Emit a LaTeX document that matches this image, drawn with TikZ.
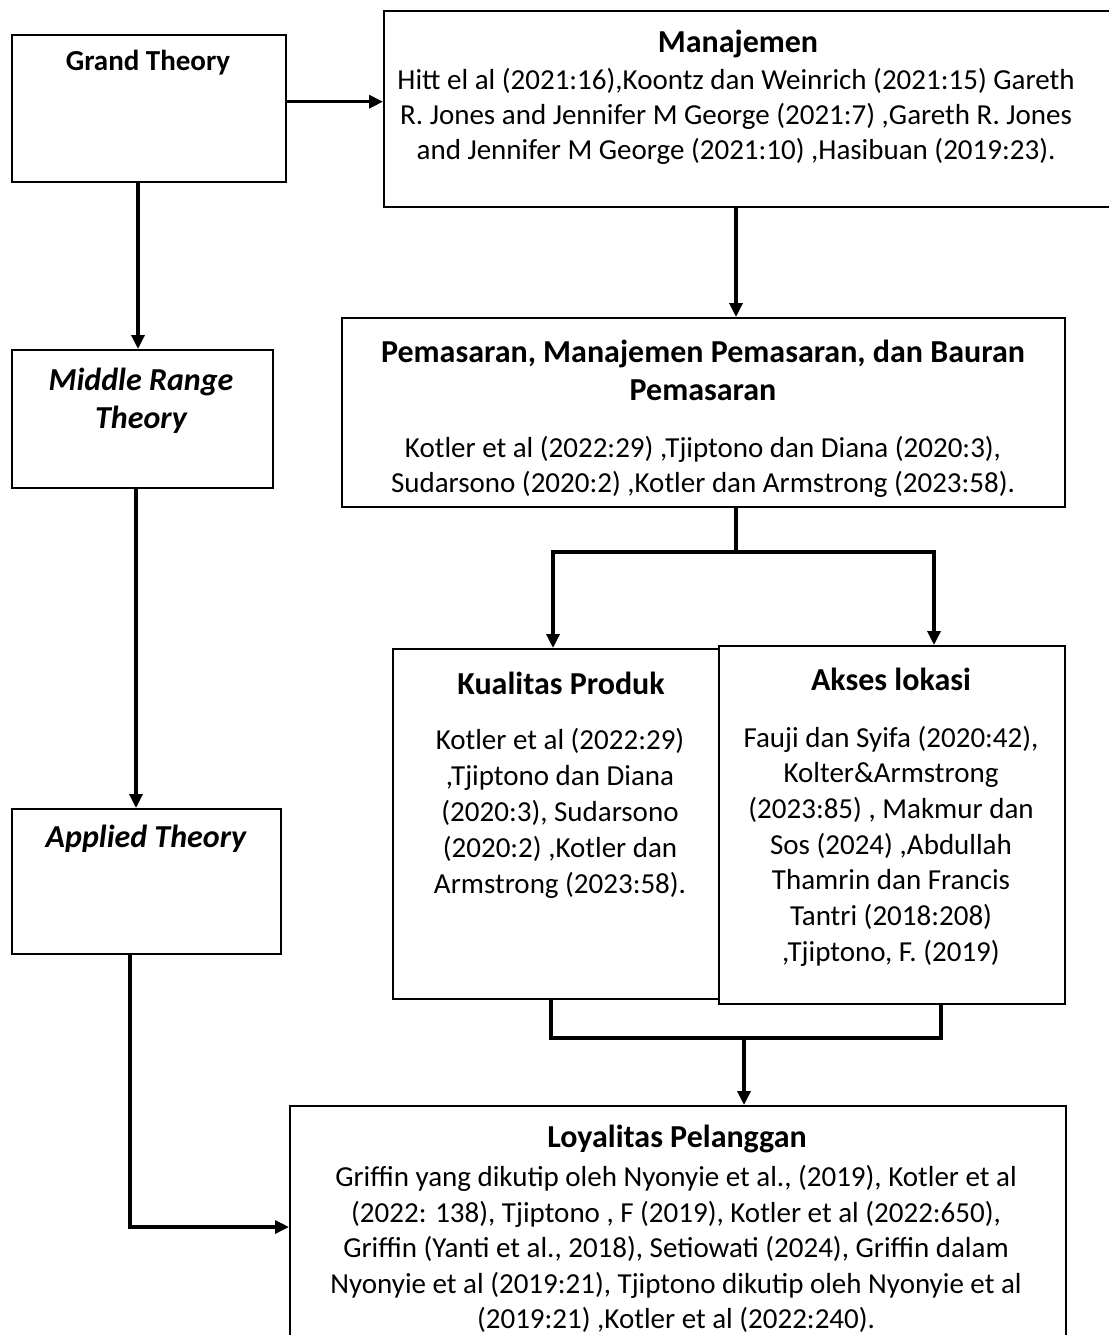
\documentclass[tikz,border=0pt]{standalone}
\usepackage{fontspec}
\setmainfont{Carlito}
\usetikzlibrary{positioning, calc, arrows.meta}

\begin{document}
\begin{tikzpicture}[
        x=1pt, y=-1pt,
        box/.style={rectangle, draw=black, line width=2.4pt, anchor=north west,
                    inner sep=0pt, fill=white},
        ttl/.style={font=\bfseries\fontsize{32}{38}\selectfont, align=center},
        ttlit/.style={font=\bfseries\itshape\fontsize{32}{38}\selectfont, align=center},
        refs/.style={font=\fontsize{29}{35}\selectfont, align=center},
        arr/.style={-{Triangle[length=14pt,width=13pt]}, line width=3.3pt},
        lnk/.style={-, line width=3.3pt},
    ]
    \useasboundingbox (0,0) rectangle (1108,1335);

    % ===== Left column: theory levels =====
    \node[box, minimum width=274pt, minimum height=147pt] (grand) at (11,34) {};
    \node[ttl, font=\bfseries\fontsize{29}{35}\selectfont] at (148,63) {Grand Theory};

    \node[box, minimum width=261pt, minimum height=138pt] (middle) at (11,349) {};
    \node[ttlit] at (141,401) {Middle Range\\Theory};

    \node[box, minimum width=269pt, minimum height=145pt] (applied) at (11,808) {};
    \node[ttlit] at (146,839) {Applied Theory};

    % ===== Manajemen =====
    \node[box, minimum width=732pt, minimum height=196pt] (manaj) at (383,10) {};
    \node[ttl] at (738,44) {Manajemen};
    \node[refs] at (736,116) {Hitt el al (2021:16),Koontz dan Weinrich (2021:15) Gareth\\
        R. Jones and Jennifer M George (2021:7) ,Gareth R. Jones\\
        and Jennifer M George (2021:10) ,Hasibuan (2019:23).};

    % ===== Pemasaran =====
    \node[box, minimum width=723pt, minimum height=189pt] (pemas) at (341,317) {};
    \node[ttl] at (703,370)
        {Pemasaran, Manajemen Pemasaran, dan Bauran\\Pemasaran};
    \node[refs] at (703,467) {Kotler et al (2022:29) ,Tjiptono dan Diana (2020:3),\\
        Sudarsono (2020:2) ,Kotler dan Armstrong (2023:58).};

    % ===== Variabel =====
    \node[box, minimum width=326pt, minimum height=350pt] (kual) at (392,648) {};
    \node[ttl] at (561,683) {Kualitas Produk};
    \node[refs, font=\fontsize{29}{36}\selectfont] at (560,813) {Kotler et al (2022:29)\\
        ,Tjiptono dan Diana\\(2020:3), Sudarsono\\(2020:2) ,Kotler dan\\
        Armstrong (2023:58).};

    \node[box, minimum width=346pt, minimum height=358pt] (akses) at (718,645) {};
    \node[ttl] at (891,679) {Akses lokasi};
    \node[refs, font=\fontsize{29}{35.7}\selectfont] at (891,846) {Fauji dan Syifa (2020:42),\\
        Kolter\&Armstrong\\(2023:85) , Makmur dan\\Sos (2024) ,Abdullah\\
        Thamrin dan Francis\\Tantri (2018:208)\\,Tjiptono, F. (2019)};

    % ===== Loyalitas Pelanggan =====
    \node[box, minimum width=776pt, minimum height=260pt] (loyal) at (289,1105) {};
    \node[ttl] at (677,1139) {Loyalitas Pelanggan};
    \node[refs, font=\fontsize{29}{35.5}\selectfont] at (676,1249)
        {Griffin yang dikutip oleh Nyonyie et al., (2019), Kotler et al\\
        (2022: 138), Tjiptono , F (2019), Kotler et al (2022:650),\\
        Griffin (Yanti et al., 2018), Setiowati (2024), Griffin dalam\\
        Nyonyie et al (2019:21), Tjiptono dikutip oleh Nyonyie et al\\
        (2019:21) ,Kotler et al (2022:240).};

    % ===== Connectors =====
    \coordinate (gx) at (138,0);
    \coordinate (mx) at (136,0);
    \coordinate (ax) at (130,1227);
    \coordinate (px) at (736,0);
    \coordinate (split) at (736,552);
    \coordinate (kx) at (553,0);
    \coordinate (sx) at (934,0);
    \coordinate (bx) at (941,0);
    \coordinate (join) at (744,1038);

    \draw[arr] ($(grand.east)+(0,-7)$) -- ($(grand.east -| manaj.west)+(0,-7)$);
    \draw[arr] (grand.south -| gx) -- (middle.north -| gx);
    \draw[arr] (middle.south -| mx) -- (applied.north -| mx);
    \draw[arr] (applied.south -| ax) |- (loyal.west |- ax);

    \draw[arr] (manaj.south -| px) -- (pemas.north -| px);
    \draw[lnk] (pemas.south -| px) -- (split);
    \draw[arr] (split) -| (kual.north -| kx);
    \draw[arr] (split) -| (akses.north -| sx);

    \draw[lnk] (kual.south -| 551,0) |- (join) -| (akses.south -| bx);
    \draw[arr] (join) -- (loyal.north -| join);

\end{tikzpicture}
\end{document}
